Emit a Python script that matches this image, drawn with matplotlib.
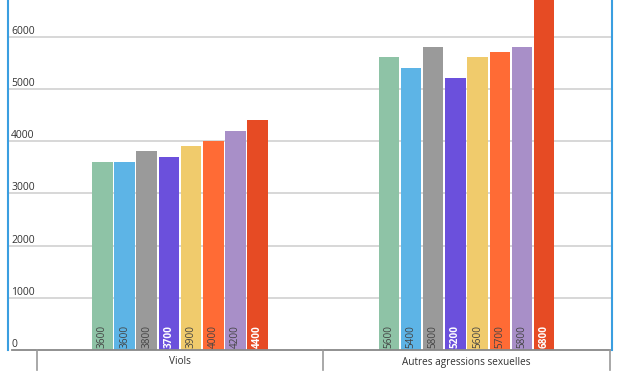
import matplotlib
matplotlib.use("Agg")
import matplotlib.pyplot as plt
from matplotlib.transforms import blended_transform_factory

categories = ["Viols", "Autres agressions sexuelles"]
series_values = [
    [3600, 5600],
    [3600, 5400],
    [3800, 5800],
    [3700, 5200],
    [3900, 5600],
    [4000, 5700],
    [4200, 5800],
    [4400, 6800],
]
colors = ["#8ec3a6", "#5db4e6", "#9a9a9a", "#6b50dc", "#f0cb6c", "#ff6b35", "#a88fc8", "#e64b24"]
label_colors = ["#444444", "#444444", "#444444", "#ffffff", "#444444", "#444444", "#444444", "#ffffff"]
label_bold = [False, False, False, True, False, False, False, True]
yticks = [0, 1000, 2000, 3000, 4000, 5000, 6000]

plt.rcParams['font.family'] = ['Open Sans', 'DejaVu Sans']

W, H = 622, 372
fig = plt.figure(figsize=(W / 100, H / 100), dpi=100)
ax_left, ax_right, ax_bottom = 8, 612, 350
ax = fig.add_axes([ax_left / W, (H - ax_bottom) / H, (ax_right - ax_left) / W, ax_bottom / H])

cat_w = 286.5
ax.set_xlim((ax_left - 180) / cat_w, (ax_right - 180) / cat_w)
ax.set_ylim(0, 6700)
px = 6700 / 350  # data units per pixel

bar_w = 20.5 / cat_w
step = 22.2 / cat_w
n = len(series_values)
for i, vals in enumerate(series_values):
    offs = (i - (n - 1) / 2) * step
    xs = [c + offs for c in range(len(categories))]
    ax.bar(xs, vals, width=bar_w, color=colors[i], zorder=3, linewidth=0)
    for x, v in zip(xs, vals):
        ax.text(x, 2 * px, f"{v}", rotation=90, ha="center", va="bottom",
                fontsize=7.2, color=label_colors[i],
                fontweight="bold" if label_bold[i] else "normal", zorder=4)

# gridlines
for t in yticks[1:]:
    ax.axhline(t, color="#d4d4d4", linewidth=1.3, zorder=1)

# tick labels above gridlines
tr = blended_transform_factory(ax.transAxes, ax.transData)
for t in yticks:
    ax.text(3 / (ax_right - ax_left), t + 3 * px, f"{t}", transform=tr, ha="left", va="baseline",
            fontsize=7.5, color="#333333", zorder=5)

ax.set_xticks([])
ax.set_yticks([])
for s in ["top", "bottom"]:
    ax.spines[s].set_visible(False)
for s in ["left", "right"]:
    ax.spines[s].set_color("#3a9ee0")
    ax.spines[s].set_linewidth(1.5)

# baseline and category separators
ax.plot([(12 - 180) / cat_w, (610 - 180) / cat_w], [0, 0], color="#888888", linewidth=1.3,
        clip_on=False, zorder=5)
for p in [37, 323, 610]:
    xd = (p - 180) / cat_w
    ax.plot([xd, xd], [0, -20 * px], color="#999999", linewidth=1.2, clip_on=False, zorder=5)

for c, name in enumerate(categories):
    ax.text(c, -12 * px, name, ha="center", va="center", fontsize=7.2,
            color="#333333", clip_on=False)

fig.savefig("out.png", dpi=100)
